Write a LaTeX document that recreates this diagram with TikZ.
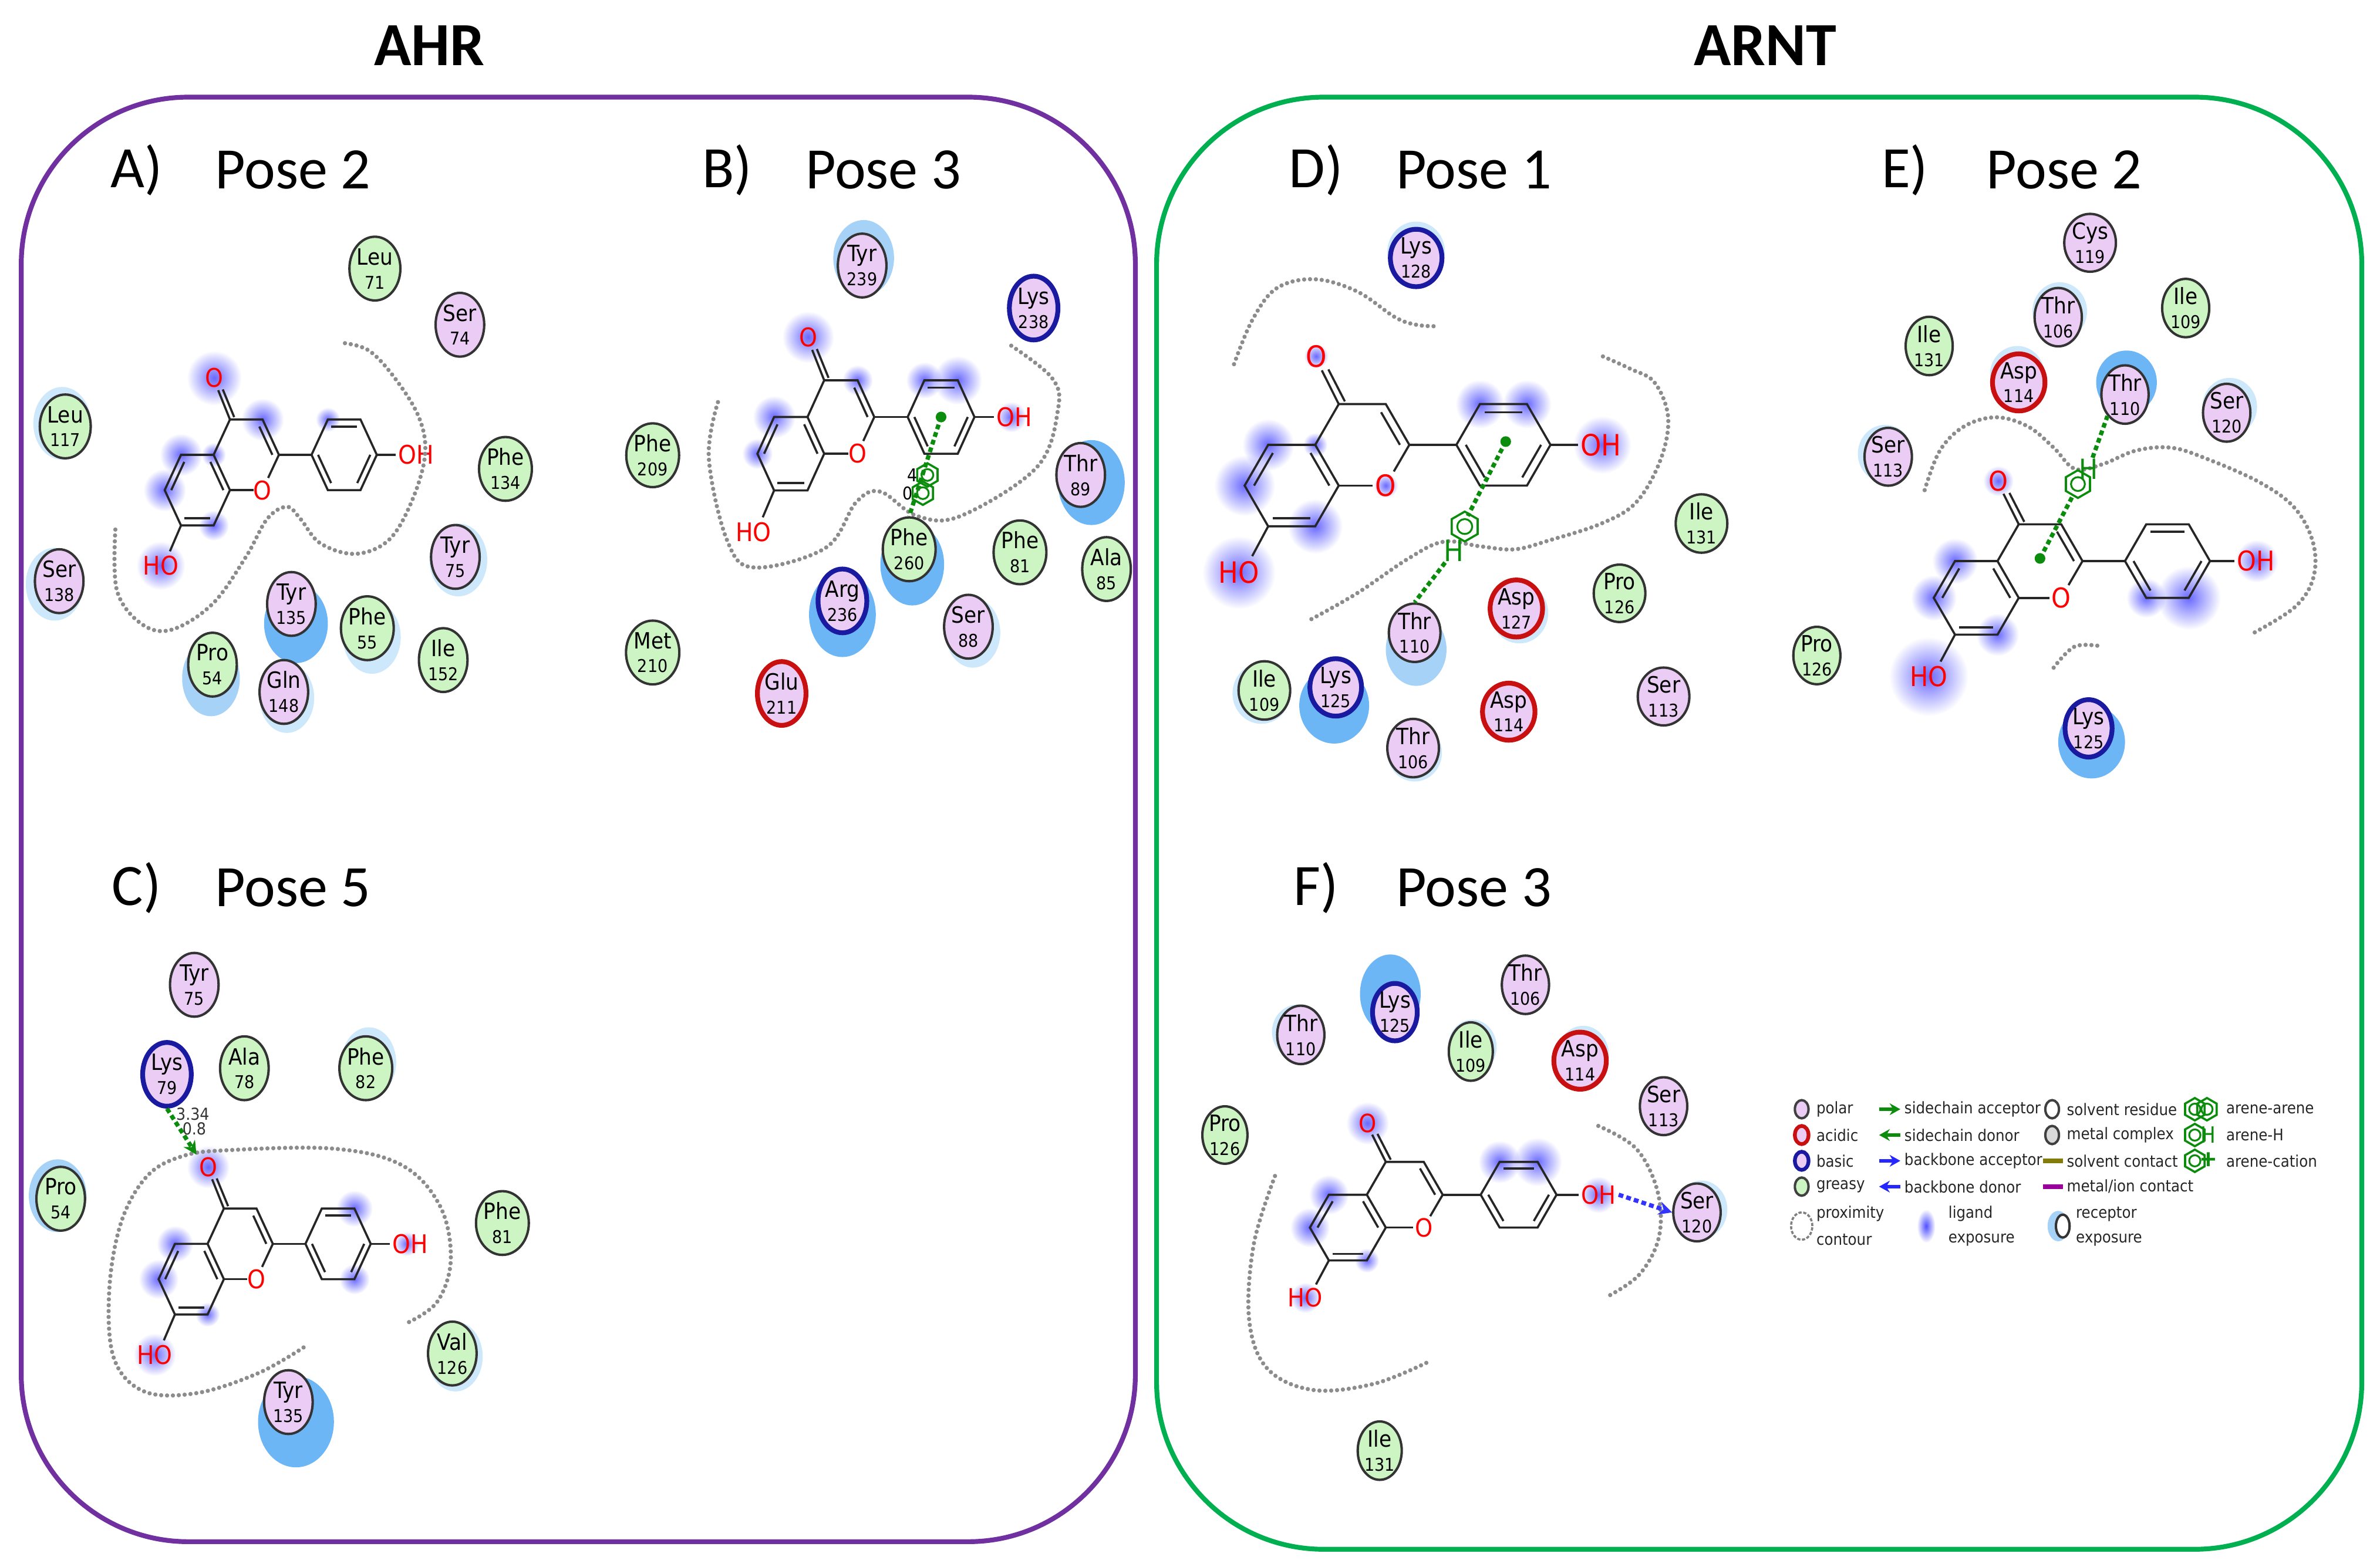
\documentclass[tikz,border=0pt]{standalone}
\usepackage{fontspec}
\setmainfont{Carlito}
\newfontfamily\resf{DejaVu Sans Condensed}
\usetikzlibrary{calc,shapes.geometric,fadings,arrows.meta}
\tikzfading[name=fuzzy, inner color=transparent!0, outer color=transparent!100]
\definecolor{polarC}{HTML}{EBCCF5}
\definecolor{greasyC}{HTML}{CDF5C4}
\definecolor{basicB}{HTML}{1A1AA0}
\definecolor{acidB}{HTML}{C81010}
\definecolor{rexpS}{HTML}{6DB6F6}
\definecolor{rexpM}{HTML}{A6D2F8}
\definecolor{rexpL}{HTML}{CDE7FB}
\definecolor{ligexp}{HTML}{4F4FFF}
\definecolor{ahrC}{HTML}{7030A0}
\definecolor{arntC}{HTML}{00B050}
\definecolor{intg}{HTML}{0C8C0C}
\definecolor{atomred}{HTML}{FF0000}
\newcommand\nf{\fontsize{3.3}{3.5}\selectfont}
\tikzset{
 res/.style={ellipse, draw=black!80, line width=0.45pt, inner sep=0pt, align=center,
   font=\resf\fontsize{4.2}{4.5}\selectfont},
 polar/.style={fill=polarC}, greasy/.style={fill=greasyC},
 basic/.style={fill=polarC, draw=basicB, line width=0.9pt},
 acidic/.style={fill=polarC, draw=acidB, line width=0.9pt},
 szA/.style={minimum width=0.32cm, minimum height=0.42cm},
 szD/.style={minimum width=0.34cm, minimum height=0.36cm},
 szE/.style={minimum width=0.31cm, minimum height=0.33cm},
 szF/.style={minimum width=0.29cm, minimum height=0.32cm},
 prox/.style={draw=black!45, line width=0.8pt, line cap=round, dash pattern=on 0pt off 1.1pt},
 ahl/.style={draw=intg, line width=0.8pt, dash pattern=on 0.9pt off 0.6pt},
 bbl/.style={draw=blue!80, line width=0.8pt, dash pattern=on 0.9pt off 0.6pt},
 lab/.style={font=\fontsize{11}{11}\selectfont, inner sep=0pt},
 lg/.style={font=\resf\fontsize{3.0}{3.2}\selectfont, anchor=west, inner sep=0pt, text=black!85},
 lgc/.style={ellipse, draw=black!75, line width=0.45pt, minimum width=0.09cm, minimum height=0.12cm, inner sep=0pt},
}
\newcommand\res[6]{\node[res,#5,#6] (#1) at (#2) {#3\\\nf #4};}
\newcommand\rxp[4]{\fill[#1] (#2) ellipse[x radius=#3*0.01cm, y radius=#4*0.01cm];}
\newcommand\hexs[2]{\draw[intg, line width=0.4pt] (#1) +(90:#2pt) -- +(150:#2pt) -- +(210:#2pt) -- +(270:#2pt) -- +(330:#2pt) -- +(30:#2pt) -- cycle; \draw[intg, line width=0.35pt] (#1) circle[radius=0.5*#2pt];}
% flavone: #1 prefix, #2 x, #3 y, #4 b, #5 yscale, #6 font size, #7 blobs
\newcommand\flav[7]{%
\begin{scope}[shift={(#2,#3)}, x={(#4*0.01cm,0cm)}, y={(0cm,#4*#5*0.01cm)}]
 \coordinate (#1-C8a) at (1,0); \coordinate (#1-C4a) at (0.5,0.866);
 \coordinate (#1-C5) at (-0.5,0.866); \coordinate (#1-C6) at (-1,0);
 \coordinate (#1-C7) at (-0.5,-0.866); \coordinate (#1-C8) at (0.5,-0.866);
 \coordinate (#1-C4) at (1,1.732); \coordinate (#1-C3) at (2,1.732);
 \coordinate (#1-C2) at (2.5,0.866); \coordinate (#1-O1) at (2,0);
 \coordinate (#1-B180) at (3.5,0.866); \coordinate (#1-B120) at (4,1.732);
 \coordinate (#1-B60) at (5,1.732); \coordinate (#1-B0) at (5.5,0.866);
 \coordinate (#1-B300) at (5,0); \coordinate (#1-B240) at (4,0);
 \coordinate (#1-Ac) at (0,0); \coordinate (#1-Cc) at (1.5,0.866); \coordinate (#1-Bc) at (4.5,0.866);
 \coordinate (#1-O4) at (0.52,2.75); \coordinate (#1-HO) at (-1.12,-1.85); \coordinate (#1-OH) at (6.6,0.866);
 \foreach \p/\r in {#7} \fill[ligexp, path fading=fuzzy, fill opacity=0.85] (#1-\p) circle[radius=\r*0.01cm];
 \begin{scope}[line width=0.4pt, black!85]
 \draw (1,0)--(0.5,0.866)--(-0.5,0.866)--(-1,0)--(-0.5,-0.866)--(0.5,-0.866)--cycle;
 \draw ($(#1-C5)!0.2!(#1-Ac)$)--($(#1-C6)!0.2!(#1-Ac)$);
 \draw ($(#1-C7)!0.2!(#1-Ac)$)--($(#1-C8)!0.2!(#1-Ac)$);
 \draw ($(#1-C4a)!0.2!(#1-Ac)$)--($(#1-C8a)!0.2!(#1-Ac)$);
 \draw (0.5,0.866)--(1,1.732)--(2,1.732)--(2.5,0.866)--(2.17,0.3);
 \draw (1,0)--(1.72,0);
 \draw ($(#1-C3)!0.2!(#1-Cc)$)--($(#1-C2)!0.2!(#1-Cc)$);
 \draw (1,1.732)--(0.64,2.45); \draw (1.13,1.79)--(0.78,2.47);
 \draw (2.5,0.866)--(3.5,0.866);
 \draw (3.5,0.866)--(4,1.732)--(5,1.732)--(5.5,0.866)--(5,0)--(4,0)--cycle;
 \draw ($(#1-B120)!0.2!(#1-Bc)$)--($(#1-B60)!0.2!(#1-Bc)$);
 \draw ($(#1-B0)!0.2!(#1-Bc)$)--($(#1-B300)!0.2!(#1-Bc)$);
 \draw ($(#1-B180)!0.2!(#1-Bc)$)--($(#1-B240)!0.2!(#1-Bc)$);
 \draw (5.5,0.866)--(6.08,0.866);
 \draw (-0.5,-0.866)--(-0.84,-1.5);
 \end{scope}
 \begin{scope}[every node/.style={text=atomred, inner sep=0.3pt, font=\resf\fontsize{#6}{#6}\selectfont}]
 \node[anchor=west] (#1-lOH) at (6.08,0.866) {OH};
 \node (#1-lHO) at (-1.12,-1.85) {HO};
 \node (#1-lO4) at (0.52,2.75) {O};
 \node (#1-lO1) at (2,0) {O};
 \end{scope}
\end{scope}}
\begin{document}
\begin{tikzpicture}[x=0.01cm,y=-0.01cm]
\useasboundingbox (0,0) rectangle (1568,1032.6);
% boxes and titles
\draw[ahrC, line width=0.9pt, rounded corners=1.1cm] (14,64) rectangle (748,1016);
\draw[arntC, line width=0.9pt, rounded corners=1.1cm] (762,64) rectangle (1556,1021);
\node[font=\bfseries\fontsize{11.5}{11.5}\selectfont] (tAHR) at (283,30) {AHR};
\node[font=\bfseries\fontsize{11.5}{11.5}\selectfont] (tARNT) at (1163,30) {ARNT};
\node[lab] (lA) at (90,112) {A)}; \node[lab] (pA) at (193,112) {Pose 2};
\node[lab] (lB) at (479,112) {B)}; \node[lab] (pB) at (582,112) {Pose 3};
\node[lab] (lC) at (90,585) {C)}; \node[lab] (pC) at (193,585) {Pose 5};
\node[lab] (lD) at (867,112) {D)}; \node[lab] (pD) at (971,112) {Pose 1};
\node[lab] (lE) at (1255,112) {E)}; \node[lab] (pE) at (1360,112) {Pose 2};
\node[lab] (lF) at (867,585) {F)}; \node[lab] (pF) at (971,585) {Pose 3};
% receptor exposure
\rxp{rexpL}{41,279}{19}{24} \rxp{rexpL}{36,385}{19}{24} \rxp{rexpL}{302,369}{19}{24}
\rxp{rexpS}{195,411}{21}{26} \rxp{rexpL}{245,420}{19}{24} \rxp{rexpM}{139,447}{19}{25}
\rxp{rexpL}{189,460}{18}{23}
\rxp{rexpM}{569,170}{20}{25} \rxp{rexpS}{719,318}{22}{28} \rxp{rexpS}{601,372}{21}{27}
\rxp{rexpS}{555,405}{22}{28} \rxp{rexpL}{641,417}{18}{23}
\rxp{rexpL}{243,700}{18}{23} \rxp{rexpM}{38,788}{19}{24} \rxp{rexpL}{300,894}{18}{23}
\rxp{rexpS}{195,937}{25}{30}
\rxp{rexpL}{933,166}{19}{20} \rxp{rexpL}{1001,404}{19}{20} \rxp{rexpM}{933,428}{20}{24}
\rxp{rexpL}{831,457}{19}{20} \rxp{rexpS}{879,465}{23}{25} \rxp{rexpL}{932,496}{18}{19}
\rxp{rexpL}{1357,205}{18}{19} \rxp{rexpL}{1329,247}{18}{19} \rxp{rexpS}{1401,252}{20}{21}
\rxp{rexpL}{1469,268}{18}{19} \rxp{rexpL}{1242,299}{18}{19} \rxp{rexpS}{1378,489}{22}{24}
\rxp{rexpS}{916,655}{20}{26} \rxp{rexpL}{855,680}{17}{18} \rxp{rexpL}{970,690}{16}{18}
\rxp{rexpL}{1043,695}{17}{19} \rxp{rexpL}{1121,797}{17}{19}
% ligands
\flav{a}{130}{323}{21.5}{1.25}{4.8}{O4/18,C3/14,C5/14,C6/14,HO/16,C8/10,C4a/8,B120/8}
\flav{b}{521}{299}{22}{1.27}{4.8}{O4/17,C3/10,C5/14,C6/10,B120/12,B60/16,OH/10}
\flav{c}{126}{843}{21.5}{1.25}{4.8}{O4/14,C5/12,C6/13,HO/14,B60/12,B300/10,OH/8,C8/8}
\flav{d}{851}{320}{31}{1.0}{5.5}{C5/17,C6/20,C8/18,HO/24,C4a/8,O1/8,B120/16,B60/16,OH/19,O4/8}
\flav{e}{1302}{394}{28}{1.0}{5.1}{C5/15,C6/15,C8/14,HO/26,O4/10,B240/13,B300/21,OH/14}
\flav{f}{888}{809}{25}{1.0}{4.7}{O4/14,C6/13,C5/13,HO/10,B120/14,B60/16,OH/12,C8/8}
% contours
\draw[prox] plot[smooth, tension=0.6] coordinates {(76,349) (77,389) (93,411) (113,415) (140,398) (162,367) (176,342) (189,334) (198,342) (211,358) (234,365) (256,356) (271,331) (280,300) (276,275) (260,249) (243,231) (226,226)};
\draw[prox] plot[smooth, tension=0.6] coordinates {(473,265) (467,302) (479,356) (497,374) (544,361) (564,331) (580,324) (604,340) (633,340) (683,308) (697,270) (693,249) (665,227)};
\draw[prox] plot[smooth, tension=0.6] coordinates {(200,888) (170,905) (130,918) (95,917) (75,895) (72,850) (80,805) (97,775) (120,762) (150,758) (220,757) (265,768) (290,795) (297,830) (288,858) (268,872)};
\draw[prox] plot[smooth, tension=0.6] coordinates {(813,240) (825,211) (841,190) (866,184) (894,192) (919,209) (933,214) (946,215)};
\draw[prox] plot[smooth, tension=0.6] coordinates {(864,408) (894,391) (928,368) (951,357) (975,360) (998,362) (1021,356) (1055,345) (1078,331) (1094,303) (1099,275) (1090,252) (1074,243) (1054,234)};
\draw[prox] plot[smooth, tension=0.6] coordinates {(1268,323) (1278,297) (1294,281) (1315,275) (1336,281) (1353,295) (1367,309) (1385,306) (1407,297) (1430,295) (1453,302) (1489,318) (1512,335) (1524,358) (1524,381) (1512,400) (1485,417)};
\draw[prox] plot[smooth, tension=0.6] coordinates {(1353,440) (1367,426) (1385,426)};
\draw[prox] plot[smooth, tension=0.6] coordinates {(1053,742) (1078,757) (1092,785) (1093,815) (1080,840) (1058,855)};
\draw[prox] plot[smooth, tension=0.6] coordinates {(840,775) (826,820) (823,870) (835,902) (865,916) (905,912) (940,898)};
% residues A
\res{a1}{247,177}{Leu}{71}{greasy}{szA} \res{a2}{303,214}{Ser}{74}{polar}{szA}
\res{a3}{43,281}{Leu}{117}{greasy}{szA} \res{a4}{333,309}{Phe}{134}{greasy}{szA}
\res{a5}{39,383}{Ser}{138}{polar}{szA} \res{a6}{300,367}{Tyr}{75}{polar}{szA}
\res{a7}{192,398}{Tyr}{135}{polar}{szA} \res{a8}{242,414}{Phe}{55}{greasy}{szA}
\res{a9}{292,435}{Ile}{152}{greasy}{szA} \res{a10}{140,438}{Pro}{54}{greasy}{szA}
\res{a11}{187,456}{Gln}{148}{polar}{szA}
% residues B
\res{b1}{568,175}{Tyr}{239}{polar}{szA} \res{b2}{681,203}{Lys}{238}{basic}{szA}
\res{b3}{430,300}{Phe}{209}{greasy}{szA} \res{b4}{712,313}{Thr}{89}{polar}{szA}
\res{b5}{729,375}{Ala}{85}{greasy}{szA} \res{b6}{599,362}{Phe}{260}{greasy}{szA}
\res{b7}{672,364}{Phe}{81}{greasy}{szA} \res{b8}{555,396}{Arg}{236}{basic}{szA}
\res{b9}{638,413}{Ser}{88}{polar}{szA} \res{b10}{430,430}{Met}{210}{greasy}{szA}
\res{b11}{515,457}{Glu}{211}{acidic}{szA}
% residues C
\res{c1}{128,649}{Tyr}{75}{polar}{szA} \res{c2}{110,708}{Lys}{79}{basic}{szA}
\res{c3}{161,704}{Ala}{78}{greasy}{szA} \res{c4}{241,704}{Phe}{82}{greasy}{szA}
\res{c5}{40,790}{Pro}{54}{greasy}{szA} \res{c6}{331,806}{Phe}{81}{greasy}{szA}
\res{c7}{298,892}{Val}{126}{greasy}{szA} \res{c8}{190,924}{Tyr}{135}{polar}{szA}
% residues D
\res{d1}{933,170}{Lys}{128}{basic}{szD} \res{d2}{1121,345}{Ile}{131}{greasy}{szD}
\res{d3}{1067,391}{Pro}{126}{greasy}{szD} \res{d4}{999,401}{Asp}{127}{acidic}{szD}
\res{d5}{932,417}{Thr}{110}{polar}{szD} \res{d6}{833,455}{Ile}{109}{greasy}{szD}
\res{d7}{880,453}{Lys}{125}{basic}{szD} \res{d8}{994,469}{Asp}{114}{acidic}{szD}
\res{d9}{1096,459}{Ser}{113}{polar}{szD} \res{d10}{931,493}{Thr}{106}{polar}{szD}
% residues E
\res{e1}{1377,160}{Cys}{119}{polar}{szE} \res{e2}{1356,209}{Thr}{106}{polar}{szE}
\res{e3}{1440,203}{Ile}{109}{greasy}{szE} \res{e4}{1271,228}{Ile}{131}{greasy}{szE}
\res{e5}{1330,252}{Asp}{114}{acidic}{szE} \res{e6}{1400,260}{Thr}{110}{polar}{szE}
\res{e7}{1467,272}{Ser}{120}{polar}{szE} \res{e8}{1244,301}{Ser}{113}{polar}{szE}
\res{e9}{1197,432}{Pro}{126}{greasy}{szE} \res{e10}{1376,480}{Lys}{125}{basic}{szE}
% residues F
\res{f1}{919,667}{Lys}{125}{basic}{szF} \res{f2}{1005,649}{Thr}{106}{polar}{szF}
\res{f3}{857,682}{Thr}{110}{polar}{szF} \res{f4}{969,693}{Ile}{109}{greasy}{szF}
\res{f5}{1041,699}{Asp}{114}{acidic}{szF} \res{f6}{1096,729}{Ser}{113}{polar}{szF}
\res{f7}{807,748}{Pro}{126}{greasy}{szF} \res{f8}{1118,799}{Ser}{120}{polar}{szF}
\res{f9}{909,956}{Ile}{131}{greasy}{szF}
% interactions
\fill[intg] (b-Bc) circle[radius=1pt];
\draw[ahl] (b-Bc) -- (b6.north);
\hexs{611,313}{2.2} \hexs{608,325}{2.2}
\node[font=\resf\fontsize{3.3}{3.3}\selectfont, inner sep=0pt] (b4l) at (601,313) {4};
\node[font=\resf\fontsize{3.3}{3.3}\selectfont, inner sep=0pt] (b0l) at (598,325) {0};
\draw[ahl, -{Stealth[length=2.5pt,width=2.5pt]}] (c2.south) -- (c-lO4.north west);
\node[font=\resf\fontsize{3.1}{3.1}\selectfont, inner sep=0pt, text=black!80] (c334) at (127,734) {3.34};
\node[font=\resf\fontsize{3.1}{3.1}\selectfont, inner sep=0pt, text=black!80] (c08) at (128,744) {0.8};
\fill[intg] (992,291) circle[radius=1pt]; \coordinate (dS) at (992,291);
\coordinate (dX) at (967,340);
\draw[ahl] (dS) -- (dX);
\hexs{965,347}{2.8}
\node[text=intg, font=\resf\fontsize{5.5}{5.5}\selectfont, inner sep=0pt] (dH) at (958,363) {H};
\draw[ahl] (dH) -- (d5.north);
\coordinate (eS) at (1344,368); \fill[intg] (eS) circle[radius=1pt];
\coordinate (eX) at (1366,326);
\draw[ahl] (eS) -- (eX);
\hexs{1369,319}{2.6}
\node[text=intg, font=\resf\fontsize{5.2}{5.2}\selectfont, inner sep=0pt] (eH) at (1376,309) {H};
\draw[ahl] (eH) -- (e6.south west);
\draw[bbl, -{Stealth[length=2.5pt,width=2.5pt]}] (f-lOH.east) -- (f8.west);
% legend
\node[lgc, fill=polarC] (g1) at (1187,731) {}; \node[lg] (g1t) at (1196,731) {polar};
\node[lgc, fill=polarC, draw=acidB, line width=0.7pt] (g2) at (1187,748) {}; \node[lg] (g2t) at (1196,748) {acidic};
\node[lgc, fill=polarC, draw=basicB, line width=0.7pt] (g3) at (1187,765) {}; \node[lg] (g3t) at (1196,765) {basic};
\node[lgc, fill=greasyC] (g4) at (1187,782) {}; \node[lg] (g4t) at (1196,782) {greasy};
\draw[black!50, line width=0.4pt, dash pattern=on 0.6pt off 0.3pt] (1187,808) ellipse[x radius=0.07cm, y radius=0.09cm];
\node[lg] (g5t) at (1196,800) {proximity}; \node[lg] (g5u) at (1196,817) {contour};
\coordinate (h1a) at (1238,731); \coordinate (h1b) at (1252,731);
\draw[intg, line width=0.7pt, -{Stealth[length=2pt,width=2.2pt]}] (h1a) -- (h1b); \node[lg] (h1t) at (1254,731) {sidechain acceptor};
\coordinate (h2a) at (1252,748); \coordinate (h2b) at (1238,748);
\draw[intg, line width=0.7pt, -{Stealth[length=2pt,width=2.2pt]}] (h2a) -- (h2b); \node[lg] (h2t) at (1254,748) {sidechain donor};
\coordinate (h3a) at (1238,765); \coordinate (h3b) at (1252,765);
\draw[blue!85, line width=0.7pt, -{Stealth[length=2pt,width=2.2pt]}] (h3a) -- (h3b); \node[lg] (h3t) at (1254,765) {backbone acceptor};
\coordinate (h4a) at (1252,782); \coordinate (h4b) at (1238,782);
\draw[blue!85, line width=0.7pt, -{Stealth[length=2pt,width=2.2pt]}] (h4a) -- (h4b); \node[lg] (h4t) at (1254,782) {backbone donor};
\fill[ligexp, path fading=fuzzy] (1269,808) ellipse[x radius=0.06cm, y radius=0.11cm];
\node[lg] (h5t) at (1283,800) {ligand}; \node[lg] (h5u) at (1283,817) {exposure};
\node[lgc, fill=white] (k1) at (1352,731) {}; \node[lg] (k1t) at (1361,731) {solvent residue};
\node[lgc, fill=black!15] (k2) at (1352,748) {}; \node[lg] (k2t) at (1361,748) {metal complex};
\draw[olive!90!black, line width=0.8pt] (1346,765) -- (1359,765); \node[lg] (k3t) at (1361,765) {solvent contact};
\draw[violet!80!magenta, line width=0.8pt] (1346,782) -- (1359,782); \node[lg] (k4t) at (1361,782) {metal/ion contact};
\fill[rexpM] (1356,808) ellipse[x radius=0.07cm, y radius=0.1cm];
\draw[black!80, fill=white, line width=0.45pt] (1359,808) ellipse[x radius=0.045cm, y radius=0.075cm];
\node[lg] (k5t) at (1367,800) {receptor}; \node[lg] (k5u) at (1367,817) {exposure};
\hexs{1446,731}{2.1} \hexs{1454,731}{2.1}
\node[lg] (m1t) at (1466,731) {arene-arene};
\hexs{1446,748}{2.1} \node[text=intg, font=\resf\fontsize{4.2}{4.2}\selectfont, inner sep=0pt] (mH) at (1455,748) {H};
\node[lg] (m2t) at (1466,748) {arene-H};
\hexs{1446,765}{2.1} \node[text=intg, font=\bfseries\fontsize{5.5}{5.5}\selectfont, inner sep=0pt] (mP) at (1455,765) {+};
\node[lg] (m3t) at (1466,765) {arene-cation};
\end{tikzpicture}
\end{document}
